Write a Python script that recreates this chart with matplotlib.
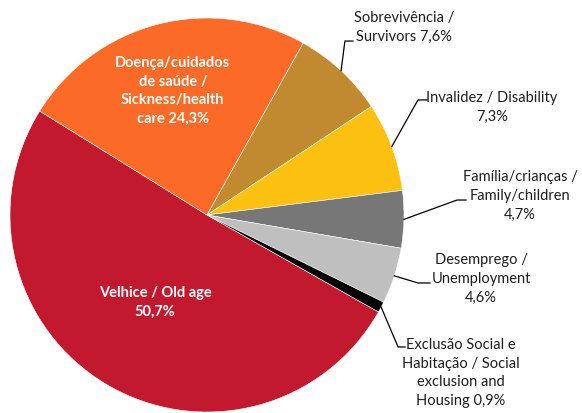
import matplotlib.pyplot as plt
import numpy as np

# social protection expenditure by function (%)
labels = ["Velhice / Old age", "Doença/cuidados de saúde / Sickness/health care",
          "Sobrevivência / Survivors", "Invalidez / Disability",
          "Família/crianças / Family/children", "Desemprego / Unemployment",
          "Exclusão Social e Habitação / Social exclusion and Housing"]
values = [50.7, 24.3, 7.6, 7.3, 4.7, 4.6, 0.9]
colors = ["#C2192E", "#FB6A26", "#C28A30", "#FBC010", "#777777", "#BFBFBF", "#000000"]
label_texts = ["Velhice / Old age\n50,7%",
               "Doença/cuidados\nde saúde /\nSickness/health\ncare 24,3%",
               "Sobrevivência /\nSurvivors 7,6%",
               "Invalidez / Disability\n7,3%",
               "Família/crianças /\nFamily/children\n4,7%",
               "Desemprego /\nUnemployment\n4,6%",
               "Exclusão Social e\nHabitação / Social\nexclusion and\nHousing 0,9%"]

plt.rcParams['font.family'] = ['Lato', 'DejaVu Sans']

W, H = 582, 413
cx, cy, R = 207, 215, 197  # pie centre and radius in pixels

fig = plt.figure(figsize=(W / 100, H / 100), dpi=100)
ax = fig.add_axes([0, 0, 1, 1])

wedges, _ = ax.pie(values, colors=colors, startangle=330.5, counterclock=False,
                   radius=1, wedgeprops=dict(edgecolor="white", linewidth=0.4))
ax.set_xlim(-cx / R, (W - cx) / R)
ax.set_ylim(-(H - cy) / R, cy / R)
ax.set_aspect("auto")
ax.axis("off")

# labels inside the two big slices
inside = {0: (-0.264, -0.442), 1: (-0.173, 0.629)}
for i, (x, y) in inside.items():
    ax.text(x, y, label_texts[i], ha="center", va="center", color="white",
            fontsize=10.5, fontweight="bold", linespacing=1.42)

# outside labels with leader lines: (elbow, line end, text centre)
outside = {
    2: ((0.700, 0.883), (0.741, 0.883), (1.000, 0.950)),
    3: ((1.071, 0.584), (1.117, 0.584), (1.447, 0.548)),
    4: ((1.269, 0.076), (1.315, 0.076), (1.589, 0.096)),
    5: ((1.071, -0.345), (1.132, -0.345), (1.391, -0.325)),
    6: ((0.970, -0.670), (1.005, -0.670), (1.289, -0.802)),
}
for i, (elbow, end, txt) in outside.items():
    w = wedges[i]
    mid = np.deg2rad((w.theta1 + w.theta2) / 2)
    x0, y0 = np.cos(mid), np.sin(mid)
    ax.plot([x0, elbow[0], end[0]], [y0, elbow[1], end[1]], color="black", lw=0.9)
    ax.text(txt[0], txt[1], label_texts[i], ha="center", va="center",
            color="#1E1E1E", fontsize=10.5, linespacing=1.45)

fig.savefig("out.png", dpi=100)
